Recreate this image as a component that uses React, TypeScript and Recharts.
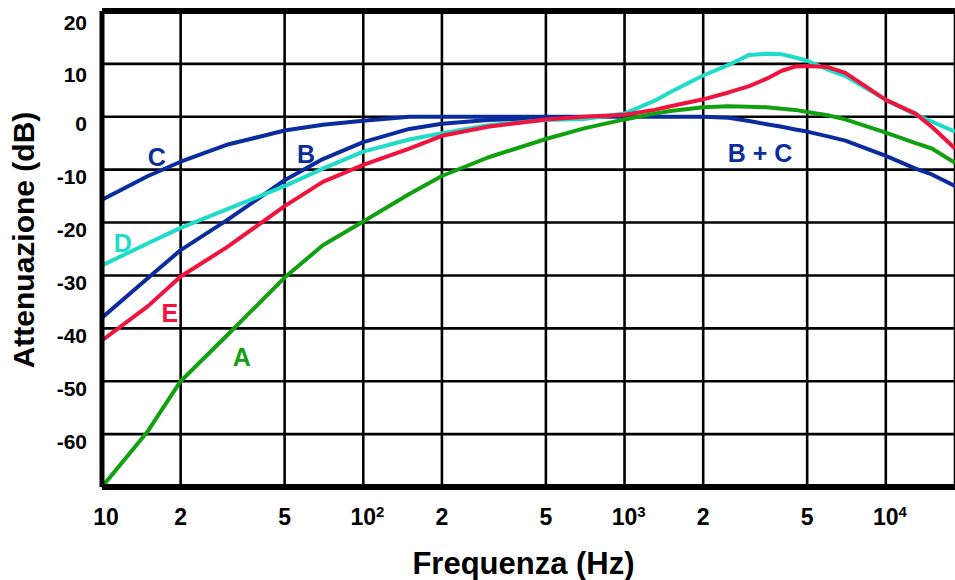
import {
  LineChart, Line, XAxis, YAxis, CartesianGrid, ReferenceLine, ReferenceDot,
} from 'recharts'

// frequency points (Hz) where the curves are sampled
const freqs = [10, 15, 20, 30, 50, 70, 100, 150, 200, 300, 500, 700, 1000, 1300, 1500, 2000, 2500, 3000, 3500, 4000, 4500, 5000, 6000, 7000, 10000, 13000, 15000, 18400]

// weighting curves, attenuation in dB
const curveA = [-70, -59.4, -50, -41.4, -30.4, -24.3, -19.8, -14.6, -11.2, -7.7, -4.2, -2.2, -0.5, 0.6, 1.1, 1.8, 2, 1.9, 1.8, 1.5, 1.3, 0.9, 0.3, -0.5, -3, -5, -6, -8.7]
const curveB = [-38, -30.5, -25.2, -19.6, -12, -8, -4.8, -2.3, -1.3, -0.6, -0.3, -0.1, null, null, null, null, null, null, null, null, null, null, null, null, null, null, null, null]
const curveC = [-15.7, -11.2, -8.5, -5.3, -2.6, -1.5, -0.75, 0, 0, 0, 0, 0, 0, 0, 0, 0, -0.2, -0.8, -1.4, -1.9, -2.4, -2.8, -3.7, -4.5, -7.4, -9.8, -10.9, -13.1]
const curveD = [-28.1, -23.9, -21, -17.5, -13.1, -9.8, -6.6, -4.3, -3.1, -1.6, -0.6, -0.4, 0.6, 3, 4.7, 7.8, 9.8, 11.7, 11.9, 11.8, 11.2, 10.6, 8.9, 7.7, 3.2, 0.4, -0.9, -2.8]
const curveE = [-42.3, -35.8, -30.2, -24.7, -16.9, -12.3, -9.1, -6, -3.6, -1.9, -0.5, 0, 0.4, 1.3, 2, 3.3, 4.6, 5.8, 7.2, 8.7, 9.5, 9.6, 9.4, 8.3, 3.2, 0.6, -1.9, -6]

// axis ticks
const xTicks = [10, 20, 50, 100, 200, 500, 1000, 2000, 5000, 10000]
const xTickLabels = ['10', '2', '5', '10', '2', '5', '10', '2', '5', '10']
const xTickExps = ['', '', '', '2', '', '', '3', '', '', '4']
const yTicks = [-60, -50, -40, -30, -20, -10, 0, 10, 20]

// curve name labels, placed at (freq, dB)
const curveLabels = [
  { text: 'C', f: 16.2, v: -7.6, key: 'C' },
  { text: 'B', f: 60.4, v: -7.0, key: 'B' },
  { text: 'D', f: 12.0, v: -23.9, key: 'D' },
  { text: 'E', f: 18.2, v: -37.1, key: 'E' },
  { text: 'A', f: 34.3, v: -45.4, key: 'A' },
  { text: 'B + C', f: 3300, v: -6.85, key: 'C' },
]

const FONT = '"Liberation Sans", Arial, Helvetica, sans-serif'
const colors: Record<string, string> = {
  A: '#10a010',
  B: '#0a2c9c',
  C: '#0a2c9c',
  D: '#1edcc8',
  E: '#f2123e',
}

const rows = freqs.map((f, i) => ({
  f, A: curveA[i], B: curveB[i], C: curveC[i], D: curveD[i], E: curveE[i],
}))

function FreqTick({ x, payload }: any) {
  const i = xTicks.indexOf(payload.value)
  const exp = xTickExps[i]
  const cx = x + (payload.value === 10 ? 4 : 0)
  if (!exp) {
    return (
      <text x={cx} y={525} textAnchor="middle" fontFamily={FONT} fontWeight="bold" fontSize={23} fill="#000">
        {xTickLabels[i]}
      </text>
    )
  }
  return (
    <text x={cx - 12.8} y={525} textAnchor="start" fontFamily={FONT} fontWeight="bold" fontSize={23} fill="#000">
      <tspan>{xTickLabels[i]}</tspan>
      <tspan fontSize={15} dy={-8}>{exp}</tspan>
    </text>
  )
}

function DbTick({ y, payload }: any) {
  const dy = payload.value >= 10 ? 11 : 7
  return (
    <text x={87} y={y + dy} textAnchor="end" dominantBaseline="central" fontFamily={FONT} fontWeight="bold" fontSize={21} fill="#000">
      {payload.value}
    </text>
  )
}

export default function App() {
  return (
    <div style={{ position: 'absolute', left: 0, top: 0, background: '#fff' }}>
      <LineChart width={955} height={580} data={rows} margin={{ top: 11, right: 0, bottom: 0, left: 0 }}>
        <CartesianGrid stroke="#000" strokeWidth={2.6} />
        <XAxis
          dataKey="f"
          type="number"
          scale="log"
          domain={[10, 18400]}
          ticks={xTicks}
          allowDataOverflow
          height={93}
          tickLine={false}
          axisLine={{ stroke: '#000', strokeWidth: 6 }}
          tick={<FreqTick />}
          label={{
            content: ({ viewBox }: any) => (
              <text
                x={viewBox.x + viewBox.width / 2 - 5}
                y={viewBox.y + 87}
                textAnchor="middle"
                fontFamily={FONT}
                fontWeight="bold"
                fontSize={31}
                fill="#000"
              >
                Frequenza (Hz)
              </text>
            ),
          }}
        />
        <YAxis
          type="number"
          domain={[-70, 20]}
          ticks={yTicks}
          allowDataOverflow
          width={102}
          tickLine={false}
          axisLine={{ stroke: '#000', strokeWidth: 5 }}
          tick={<DbTick />}
          label={{
            content: ({ viewBox }: any) => {
              const cy = viewBox.y + viewBox.height / 2 - 9
              return (
                <text
                  x={34}
                  y={cy}
                  transform={`rotate(-90 34 ${cy})`}
                  textAnchor="middle"
                  fontFamily={FONT}
                  fontWeight="bold"
                  fontSize={30}
                  fill="#000"
                >
                  Attenuazione (dB)
                </text>
              )
            },
          }}
        />
        <ReferenceLine y={20} stroke="#000" strokeWidth={6} ifOverflow="visible" />

        {['C', 'B', 'D', 'E', 'A'].map((k) => (
          <Line
            key={k}
            dataKey={k}
            type="linear"
            stroke={colors[k]}
            strokeWidth={4}
            strokeLinejoin="round"
            dot={false}
            activeDot={false}
            isAnimationActive={false}
          />
        ))}

        {curveLabels.map((l) => (
          <ReferenceDot
            key={l.text}
            x={l.f}
            y={l.v}
            r={0}
            shape={(p: any) => (
              <text
                x={p.cx}
                y={p.cy}
                textAnchor="middle"
                dominantBaseline="central"
                fontFamily={FONT}
                fontWeight="bold"
                fontSize={25}
                fill={colors[l.key]}
              >
                {l.text}
              </text>
            )}
          />
        ))}
      </LineChart>
    </div>
  )
}
